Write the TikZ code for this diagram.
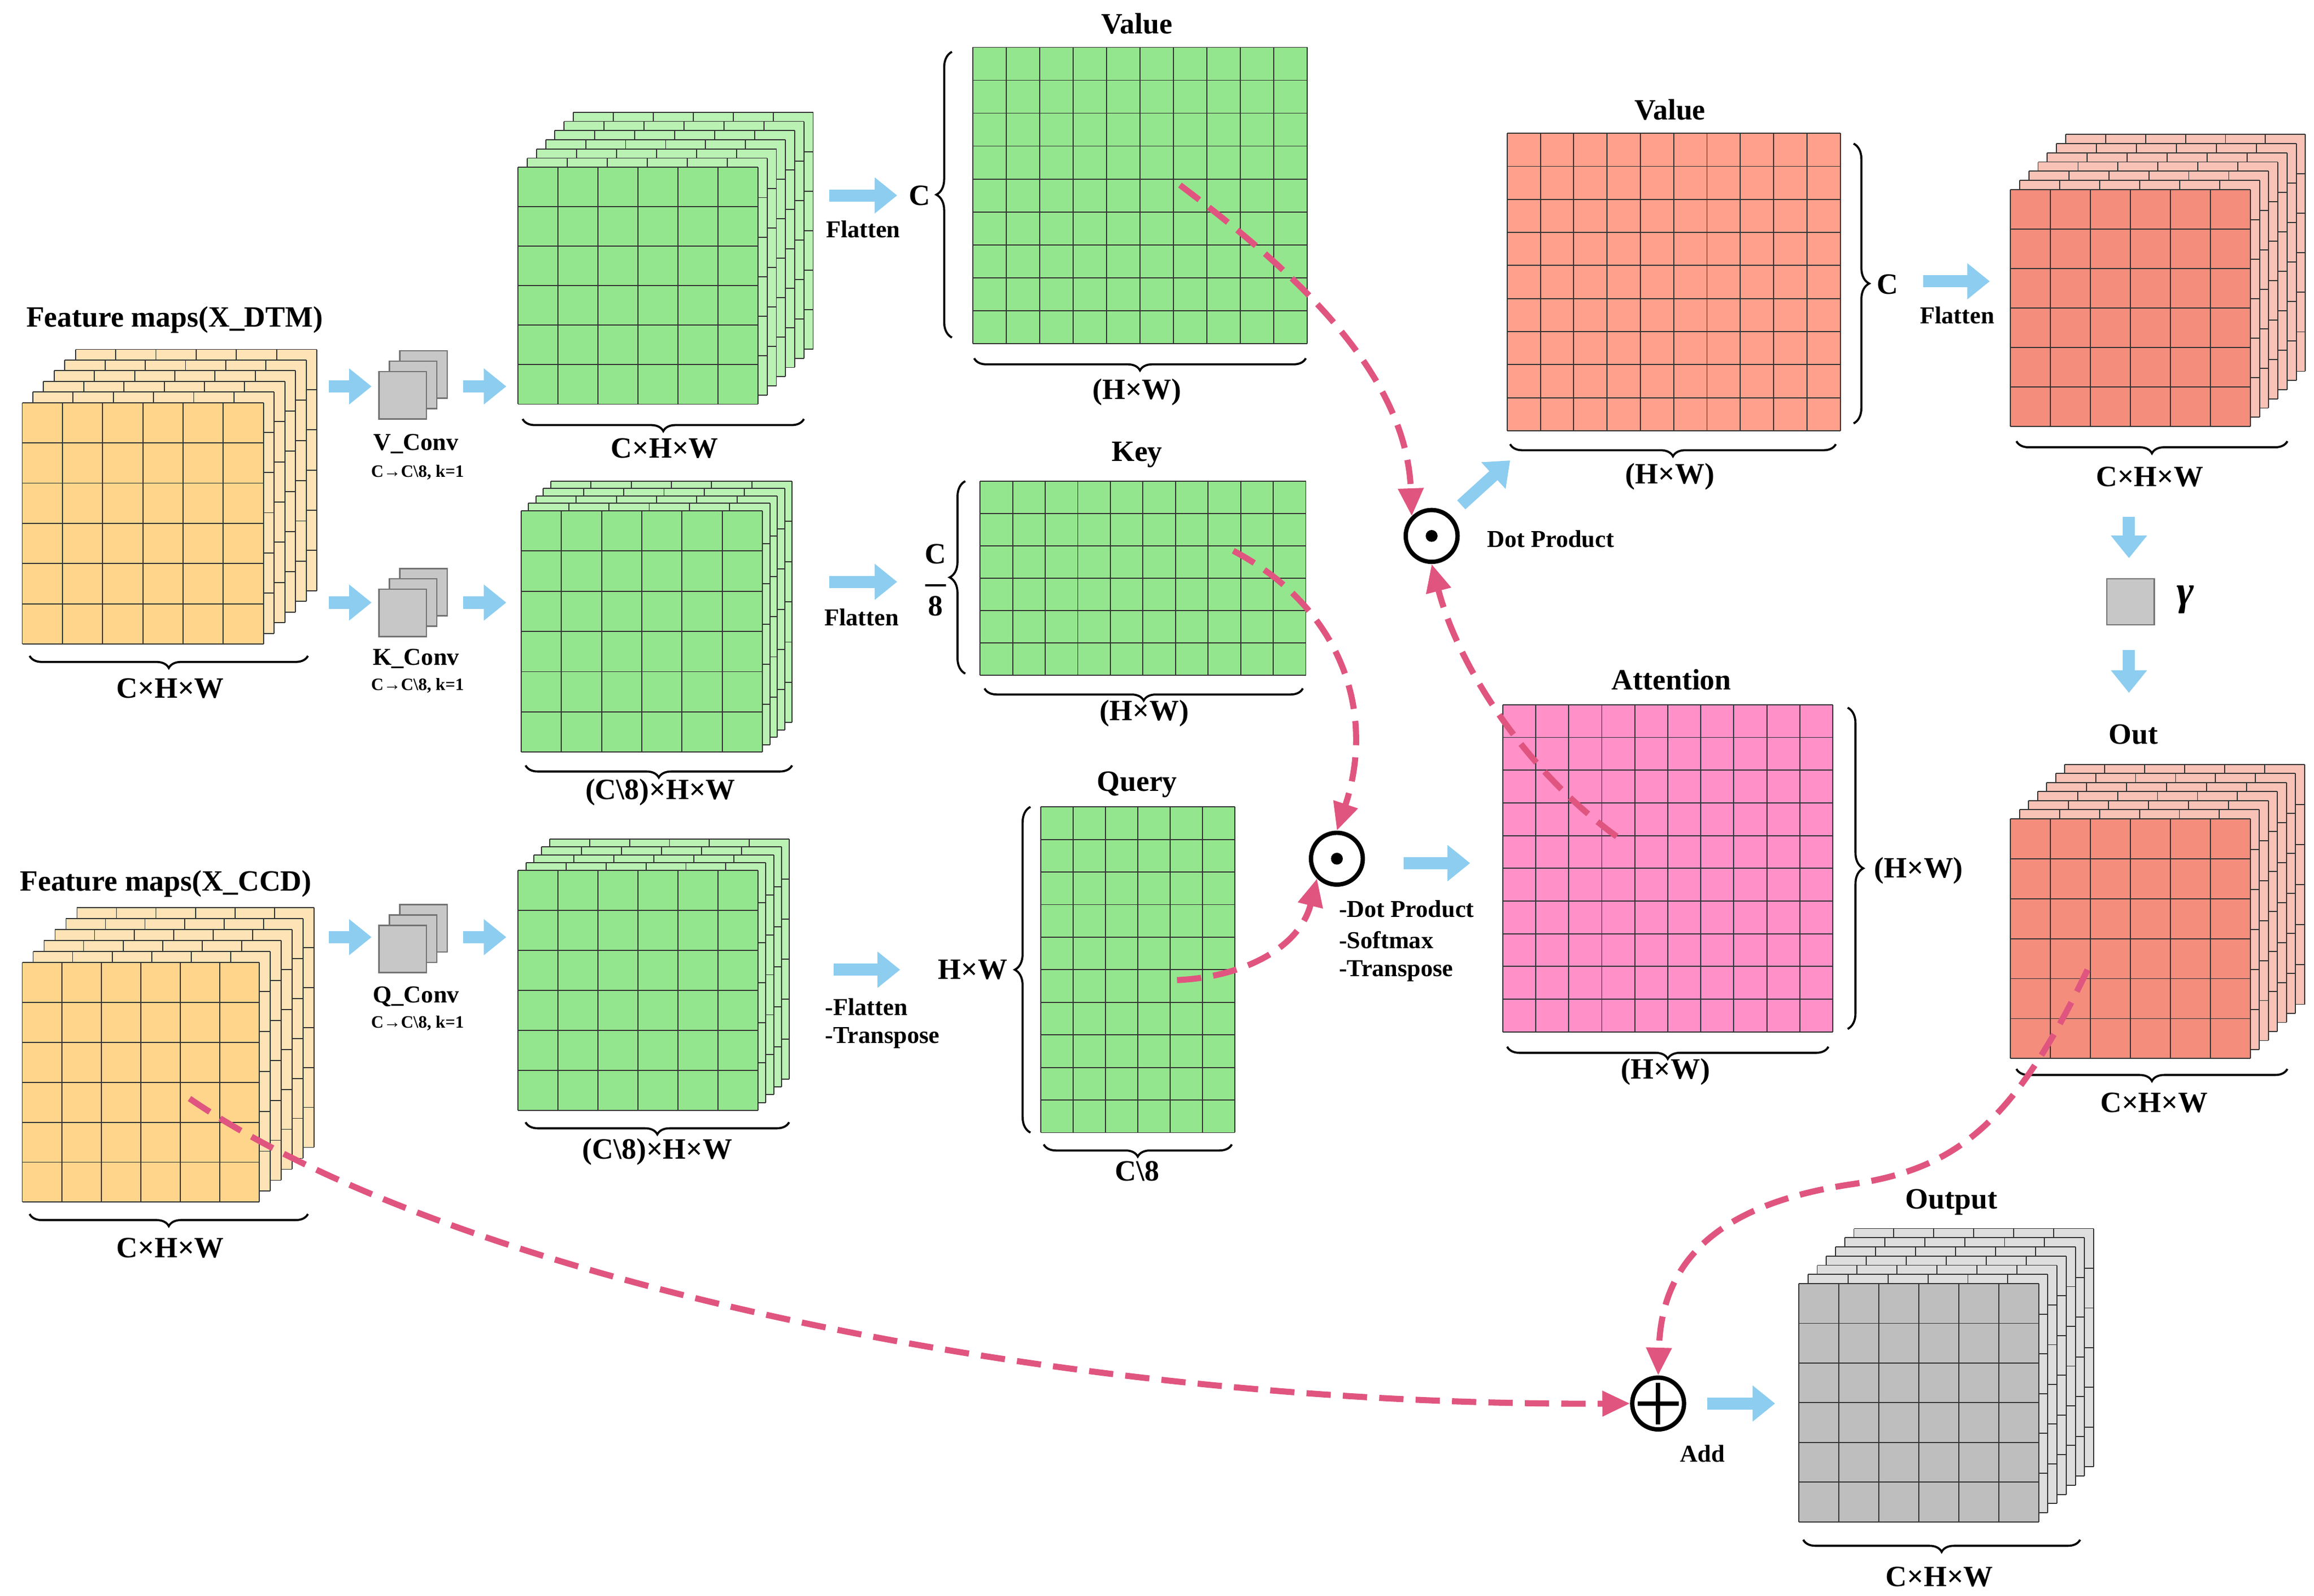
\documentclass[tikz,border=0pt]{standalone}
\usepackage{fontspec}
\setmainfont{Liberation Serif}
\usetikzlibrary{arrows.meta,decorations.pathreplacing,calc}
\definecolor{oF}{HTML}{FFD58C}\definecolor{oB}{HTML}{FDE3B5}
\definecolor{gF}{HTML}{94E68E}\definecolor{gB}{HTML}{B9F2B3}
\definecolor{rF}{HTML}{F58D7D}\definecolor{rB}{HTML}{F9C2B6}
\definecolor{sF}{HTML}{FFA08C}
\definecolor{pF}{HTML}{FF90C8}
\definecolor{kF}{HTML}{BEBEBE}\definecolor{kB}{HTML}{DEDEDE}
\definecolor{blu}{HTML}{8DCDF0}
\definecolor{pk}{HTML}{E0557F}
\tikzset{
 gl/.style={draw=black!80,line width=0.6pt},
 lbl/.style={font=\bfseries\fontsize{17}{19}\selectfont,inner sep=1pt},
 ttl/.style={font=\bfseries\fontsize{17}{19}\selectfont,inner sep=1pt},
 sm/.style={font=\bfseries\fontsize{14}{16}\selectfont,inner sep=1pt},
 tiny/.style={font=\bfseries\fontsize{10}{12}\selectfont,inner sep=1pt},
 barrow/.style={draw=blu,line width=7pt,-{Triangle[length=13pt,width=20pt]}},
 dsh/.style={draw=pk,line width=3.5pt,dash pattern=on 14pt off 7pt,-{Triangle[length=16pt,width=14pt]}},
 brb/.style={decorate,decoration={brace,mirror,amplitude=7pt},line width=1.2pt},
 brl/.style={decorate,decoration={brace,amplitude=9pt},line width=1.2pt},
 op/.style={circle,draw,line width=2.5pt,minimum size=1.05cm,inner sep=0pt},
}
\newcommand\gridr[7]{%
 \fill[#7] (#1,#2) rectangle ++(#3,#4);
 \foreach \k in {0,...,#5} \draw[gl] ({#1+\k*#3/#5},#2) -- ++(0,#4);
 \foreach \k in {0,...,#6} \draw[gl] (#1,{#2+\k*#4/#6}) -- ++(#3,0);}
\newcommand\stk[8]{% x y w h layers step front back
 \foreach \i in {#5,...,1}{\gridr{#1+\i*#6}{#2-\i*#6}{#3}{#4}{6}{6}{#8}}
 \gridr{#1}{#2}{#3}{#4}{6}{6}{#7}}
\newcommand\conv[2]{%
 \foreach \i in {2,1,0}{\filldraw[fill=black!22,draw=black!55,line width=0.8pt] ({#1+\i*7},{#2-\i*7}) rectangle ++(32,32);}}
\begin{document}
\begin{tikzpicture}[x=0.03cm,y=-0.03cm]
\useasboundingbox (0,0) rectangle (1563,1078);
% feature maps
\stk{15}{272}{163}{163}{5}{7.2}{oF}{oB}
\node[ttl] (tdtm) at (118,216) {Feature maps(X\_DTM)};
\draw[brb] (20,443) -- (208,443); \node[lbl] (ldtm) at (115,465) {C×H×W};
\stk{15}{650}{160}{162}{5}{7.4}{oF}{oB}
\node[ttl] (tccd) at (112,597) {Feature maps(X\_CCD)};
\draw[brb] (20,820) -- (208,820); \node[lbl] (lccd) at (115,843) {C×H×W};
% convs
\conv{256}{251}\conv{256}{398}\conv{256}{625}
\node[sm] (vc) at (281,300) {V\_Conv}; \node[tiny] (vc2) at (282,319) {C→C\textbackslash8, k=1};
\node[sm] (kc) at (281,445) {K\_Conv}; \node[tiny] (kc2) at (282,463) {C→C\textbackslash8, k=1};
\node[sm] (qc) at (281,673) {Q\_Conv}; \node[tiny] (qc2) at (282,691) {C→C\textbackslash8, k=1};
\foreach \y in {261,407,633}{\draw[barrow] (222,\y) -- (251,\y); \draw[barrow] (313,\y) -- (342,\y);}
% green stacks
\stk{350}{113}{162}{160}{6}{6.2}{gF}{gB}
\draw[brb] (353,283) -- (543,283); \node[lbl] (lv) at (449,303) {C×H×W};
\stk{352}{345}{163}{163}{4}{5}{gF}{gB}
\draw[brb] (355,517) -- (535,517); \node[lbl] (lk) at (446,535) {(C\textbackslash8)×H×W};
\stk{350}{588}{162}{162}{4}{5.3}{gF}{gB}
\draw[brb] (355,758) -- (533,758); \node[lbl] (lq) at (444,778) {(C\textbackslash8)×H×W};
% flatten
\draw[barrow] (560,132) -- (606,132); \node[sm] (f1) at (583,155) {Flatten};
\draw[barrow] (560,393) -- (606,393); \node[sm] (f2) at (582,417) {Flatten};
\draw[barrow] (563,655) -- (608,655);
\node[sm,anchor=west] (f3) at (556,680) {-Flatten}; \node[sm,anchor=west] (f4) at (556,701) {-Transpose};
% matrices
\gridr{657}{32}{226}{200}{10}{9}{gF}
\node[ttl] (tv) at (768,16) {Value};
\draw[brl] (643,228) -- (643,35); \node[ttl] (cv) at (621,132) {C};
\draw[brb] (658,242) -- (882,242); \node[lbl] (hv) at (768,265) {(H×W)};
\gridr{662}{325}{220}{131}{10}{6}{gF}
\node[ttl] (tk) at (768,307) {Key};
\draw[brl] (652,455) -- (652,325);
\node[font=\bfseries\fontsize{17}{19}\selectfont,inner sep=1pt,align=center] (ck) at (632,392) {C\\[-6pt]\rule{12pt}{1.2pt}\\[-2pt]8};
\draw[brb] (665,465) -- (880,465); \node[lbl] (hk) at (773,482) {(H×W)};
\gridr{703}{545}{131}{220}{6}{10}{gF}
\node[ttl] (tq) at (768,530) {Query};
\draw[brl] (696,765) -- (696,545); \node[lbl] (cq) at (657,655) {H×W};
\draw[brb] (705,773) -- (832,773); \node[lbl] (hq) at (768,791) {C\textbackslash8};
% dot products
\node[op] (dp1) at (967,362) {}; \fill (dp1) circle (4);
\node[sm,anchor=west] (dpl) at (1003,364) {Dot Product};
\node[op] (dp2) at (903,580) {}; \fill (dp2) circle (4);
\node[sm,anchor=west] (d1) at (903,614) {-Dot Product};
\node[sm,anchor=west] (d2) at (903,635) {-Softmax};
\node[sm,anchor=west] (d3) at (903,656) {-Transpose};
\draw[barrow] (948,583) -- (993,583);
\draw[barrow] (987,341) -- (1020,311);
% right value
\gridr{1018}{90}{225}{201}{10}{9}{sF}
\node[ttl] (tv2) at (1128,74) {Value};
\draw[brl] (1252,97) -- (1252,286); \node[ttl] (cv2) at (1275,192) {C};
\draw[brb] (1020,300) -- (1240,300); \node[lbl] (hv2) at (1128,322) {(H×W)};
\draw[barrow] (1299,190) -- (1344,190); \node[sm] (f5) at (1322,213) {Flatten};
\stk{1358}{128}{162}{160}{6}{6.2}{rF}{rB}
\draw[brb] (1362,298) -- (1545,298); \node[lbl] (lr) at (1452,322) {C×H×W};
\draw[barrow] (1438,349) -- (1438,377);
\filldraw[fill=black!22,draw=black!55,line width=0.8pt] (1423,391) rectangle (1455,422);
\node[font=\bfseries\itshape\fontsize{24}{26}\selectfont] (gm) at (1476,405) {γ};
\draw[barrow] (1438,439) -- (1438,468);
\node[ttl] (to) at (1441,496) {Out};
\stk{1358}{553}{162}{162}{6}{6.1}{rF}{rB}
\draw[brb] (1362,722) -- (1545,722); \node[lbl] (lo) at (1455,745) {C×H×W};
% attention
\gridr{1015}{476}{223}{221}{10}{10}{pF}
\node[ttl] (ta) at (1129,459) {Attention};
\draw[brl] (1248,478) -- (1248,695); \node[lbl] (ha) at (1296,588) {(H×W)};
\draw[brb] (1018,707) -- (1235,707); \node[lbl] (ha2) at (1125,724) {(H×W)};
% output
\stk{1215}{867}{162}{161}{6}{6.2}{kF}{kB}
\node[ttl] (tout) at (1318,812) {Output};
\draw[brb] (1218,1040) -- (1405,1040); \node[lbl] (lout) at (1310,1065) {C×H×W};
\node[op] (add) at (1120,948) {};
\draw[line width=2.5pt] ($(add)+(-14,0)$) -- ($(add)+(14,0)$);
\draw[line width=2.5pt] ($(add)+(0,-14)$) -- ($(add)+(0,14)$);
\node[sm] (addl) at (1150,982) {Add};
\draw[barrow] (1153,948) -- (1199,948);
% dashed connectors
\coordinate (sa) at (797,125); \coordinate (sb) at (833,372); \coordinate (sc) at (795,662);
\coordinate (sd) at (1092,565); \coordinate (se) at (1410,655); \coordinate (sf) at (128,742);
\draw[dsh] (sa) .. controls (870,180) and (950,250) .. (dp1.north west);
\draw[dsh] (sb) .. controls (905,410) and (930,480) .. (dp2.north);
\draw[dsh] (sc) .. controls (840,660) and (878,640) .. (dp2.south west);
\draw[dsh] (sd) .. controls (1030,520) and (985,450) .. (dp1.south);
\draw[dsh] (se) .. controls (1360,760) and (1320,790) .. (1250,800) .. controls (1150,815) and (1122,860) .. (add.north);
\draw[dsh] (sf) .. controls (300,860) and (700,950) .. (add.west);
\end{tikzpicture}
\end{document}
